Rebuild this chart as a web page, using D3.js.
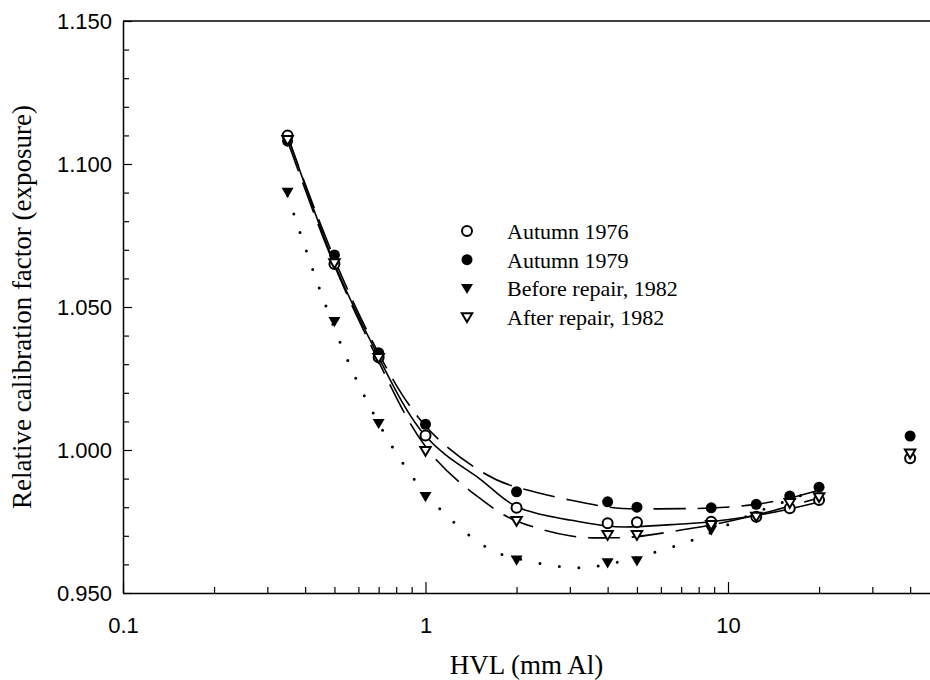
<!DOCTYPE html>
<html>
  <head>
    <meta charset="utf-8" />
    <script src="https://d3js.org/d3.v7.min.js"></script>
    <style>
      body { margin: 0; background: #fff; }
      .tick text { font-family: "Liberation Sans", Arial, sans-serif; font-size: 22px; fill: #000; }
      .domain { stroke: #000; stroke-width: 1.5; }
      .tick line { stroke: #000; stroke-width: 1.2; }
    </style>
  </head>
  <body>
    <div id="chart"></div>
    <script>
      // HVL (mm Al) of the measured beams
      const hvl = [0.35, 0.5, 0.7, 1, 2, 4, 5, 8.8, 12.4, 16, 20, 40];
      const autumn1976 = [1.110, 1.065, 1.0324, 1.0051, 0.9798, 0.9744, 0.9747, 0.9749, 0.9767, 0.9796, 0.9825, 0.9971];
      const autumn1979 = [1.108, 1.0682, 1.034, 1.009, 0.9854, 0.9819, 0.980, 0.9798, 0.981, 0.9839, 0.987, 1.0049];
      const hvlBefore = [0.35, 0.5, 0.7, 1, 2, 4, 5, 8.8];
      const before1982 = [1.0901, 1.0449, 1.0093, 0.9837, 0.9615, 0.9606, 0.9613, 0.972];
      const after1982 = [1.1084, 1.0653, 1.0322, 0.9997, 0.9752, 0.9703, 0.9703, 0.9738, 0.9767, 0.9815, 0.9835, 0.9988];

      // fitted curves
      const fitHvl = [0.35, 0.5, 0.7, 1, 1.5, 2, 3, 4, 5, 7, 8.8, 12, 16, 20];
      const fit1976 = [1.110, 1.0652, 1.0325, 1.0049, 0.9902, 0.9802, 0.9755, 0.9734, 0.9732, 0.9741, 0.9749, 0.9769, 0.9794, 0.9818];
      const fit1979 = [1.1095, 1.0668, 1.0338, 1.0084, 0.993, 0.987, 0.9825, 0.9801, 0.9794, 0.9795, 0.9797, 0.9808, 0.9832, 0.986];
      const fitBefore = [1.089, 1.0425, 1.0094, 0.9849, 0.9677, 0.9621, 0.9589, 0.9601, 0.9624, 0.9671, 0.9712, 0.9776, 0.9826, 0.9866];
      const fitAfter = [1.108, 1.0645, 1.031, 1.0012, 0.9834, 0.9752, 0.970, 0.9693, 0.9697, 0.972, 0.9738, 0.9769, 0.9804, 0.9832];

      const legendLabels = ["Autumn 1976", "Autumn 1979", "Before repair, 1982", "After repair, 1982"];
      const xTicks = [0.1, 1, 10];
      const yTicks = [0.95, 1.0, 1.05, 1.1, 1.15];

      const W = 930, H = 680;
      const svg = d3.select("#chart").append("svg").attr("width", W).attr("height", H);

      const x = d3.scaleLog().domain([0.1, 50]).range([123, 123 + 302.5 * Math.log10(500)]);
      const y = d3.scaleLinear().domain([0.95, 1.15]).range([593, 21]);

      // minor ticks
      const xMinor = [];
      [0.1, 1, 10].forEach((d) => { for (let k = 2; k <= 9; k++) if (d * k <= 40) xMinor.push(d * k); });
      const yMinor = d3.range(0.95, 1.1501, 0.01).filter((v) => Math.abs(v * 20 - Math.round(v * 20)) > 1e-6);

      svg.append("g").attr("transform", "translate(0,593)")
        .call(d3.axisBottom(x).tickValues(xMinor).tickSize(-6).tickFormat(""))
        .call((g) => g.select(".domain").remove());
      svg.append("g").attr("transform", "translate(0,593)")
        .call(d3.axisBottom(x).tickValues(xTicks).tickSize(-11).tickSizeOuter(0).tickPadding(24).tickFormat((d) => String(d)));

      svg.append("g").attr("transform", "translate(123,0)")
        .call(d3.axisLeft(y).tickValues(yMinor).tickSize(-6).tickFormat(""))
        .call((g) => g.select(".domain").remove());
      svg.append("g").attr("transform", "translate(123,0)")
        .call(d3.axisLeft(y).tickValues(yTicks).tickSize(-9).tickSizeOuter(0).tickPadding(11).tickFormat(d3.format(".3f")));

      // top frame line
      svg.append("line").attr("x1", 123).attr("x2", x.range()[1]).attr("y1", 21).attr("y2", 21)
        .attr("stroke", "#000").attr("stroke-width", 1.5);

      // curves
      const line = (vals) => d3.line().x((d, i) => x(fitHvl[i])).y((d) => y(d)).curve(d3.curveNatural)(vals);
      const curves = [
        { vals: fit1976, dash: null },
        { vals: fit1979, dash: "32,12" },
        { vals: fitAfter, dash: "32,12" },
        { vals: fitBefore, dash: "0,19.5" },
      ];
      curves.forEach((c, i) => {
        svg.append("path").attr("d", line(c.vals)).attr("fill", "none").attr("stroke", "#000")
          .attr("stroke-width", i === 3 ? 3 : 1.6)
          .attr("stroke-linecap", i === 3 ? "round" : "butt")
          .attr("stroke-dasharray", c.dash);
      });

      // markers
      const tri = (cx, cy, s) => `M${cx - s},${cy - s * 0.75}L${cx + s},${cy - s * 0.75}L${cx},${cy + s * 0.95}Z`;
      function drawCircles(xs, ys, filled) {
        svg.append("g").selectAll("circle").data(ys).join("circle")
          .attr("cx", (d, i) => x(xs[i])).attr("cy", (d) => y(d)).attr("r", filled ? 5.5 : 5)
          .attr("fill", filled ? "#000" : "#fff").attr("stroke", "#000").attr("stroke-width", filled ? 0 : 2);
      }
      function drawTris(xs, ys, filled) {
        svg.append("g").selectAll("path").data(ys).join("path")
          .attr("d", (d, i) => tri(x(xs[i]), y(d), filled ? 6 : 5.2))
          .attr("fill", filled ? "#000" : "#fff").attr("stroke", "#000").attr("stroke-width", filled ? 0 : 2)
          .attr("stroke-linejoin", "miter");
      }
      drawCircles(hvl, autumn1979, true);
      drawCircles(hvl, autumn1976, false);
      drawTris(hvlBefore, before1982, true);
      drawTris(hvl, after1982, false);

      // legend
      const lg = svg.append("g");
      legendLabels.forEach((t, i) => {
        const ly = 231 + i * 28.7;
        if (i === 0) lg.append("circle").attr("cx", 467).attr("cy", ly).attr("r", 5).attr("fill", "#fff").attr("stroke", "#000").attr("stroke-width", 2);
        if (i === 1) lg.append("circle").attr("cx", 467).attr("cy", ly).attr("r", 5.5).attr("fill", "#000");
        if (i === 2) lg.append("path").attr("d", tri(467, ly, 6)).attr("fill", "#000");
        if (i === 3) lg.append("path").attr("d", tri(467, ly, 5.2)).attr("fill", "#fff").attr("stroke", "#000").attr("stroke-width", 2);
        lg.append("text").attr("x", 507).attr("y", ly + 8).text(t)
          .style("font-family", "'Liberation Serif', 'Times New Roman', serif").style("font-size", "22px");
      });

      // axis titles
      svg.append("text").attr("x", (123 + 930) / 2).attr("y", 674).attr("text-anchor", "middle")
        .style("font-family", "'Liberation Serif', 'Times New Roman', serif").style("font-size", "27px")
        .text("HVL (mm Al)");
      svg.append("text").attr("transform", "translate(31,307) rotate(-90)").attr("text-anchor", "middle")
        .style("font-family", "'Liberation Serif', 'Times New Roman', serif").style("font-size", "27px")
        .text("Relative calibration factor (exposure)");
    </script>
  </body>
</html>
